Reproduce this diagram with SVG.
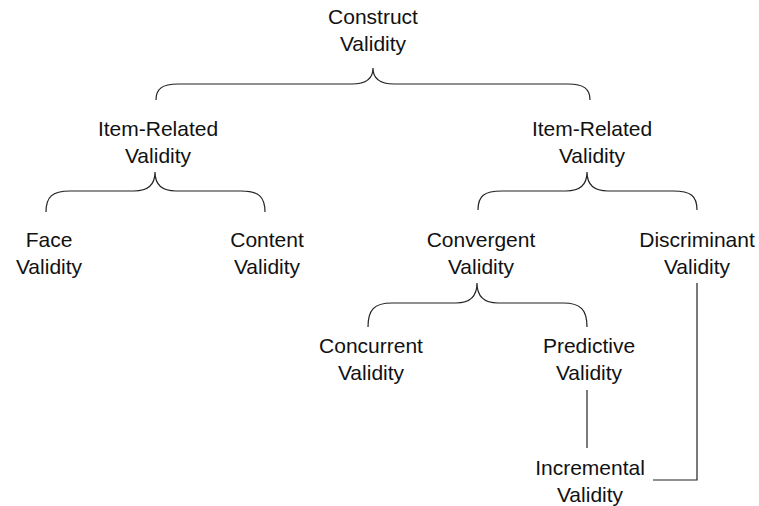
<svg xmlns="http://www.w3.org/2000/svg" width="759" height="506" viewBox="0 0 759 506">
<style>
text{font-family:"Liberation Sans",Arial,Helvetica,sans-serif;font-size:21px;fill:#111;text-anchor:middle}
.c{fill:none;stroke:#222;stroke-width:1.2}
</style>
<rect width="759" height="506" fill="#fff"/>
<g id="connectors">
<path class="c" d="M156,100 C156,89 162,84 178,84 L352,84 C366,84 373,78 373,68 C373,78 380,84 394,84 L568,84 C584,84 590,89 590,100"/>
<path class="c" d="M46,212 C46,197 52,191 70,191 L134,191 C148,191 155,185 155,172 C155,185 162,191 176,191 L241,191 C259,191 265,197 265,212"/>
<path class="c" d="M478,210 C478,196 484,191 502,191 L566,191 C580,191 587,185 587,172 C587,185 594,191 608,191 L673,191 C691,191 697,196 697,210"/>
<path class="c" d="M368,327 C368,310 374,303 392,303 L456,303 C470,303 477,296 477,283 C477,296 484,303 498,303 L563,303 C581,303 587,310 587,327"/>
<path class="c" d="M587,390 L587,448"/>
<path class="c" d="M697,283 L697,480 L653,480"/>
</g>
<g id="construct"><text x="373" y="24">Construct</text><text x="373" y="51">Validity</text></g>
<g id="item1"><text x="158" y="136">Item-Related</text><text x="158" y="163">Validity</text></g>
<g id="item2"><text x="592" y="136">Item-Related</text><text x="592" y="163">Validity</text></g>
<g id="face"><text x="49" y="247">Face</text><text x="49" y="274">Validity</text></g>
<g id="content"><text x="267" y="247">Content</text><text x="267" y="274">Validity</text></g>
<g id="convergent"><text x="481" y="247">Convergent</text><text x="481" y="274">Validity</text></g>
<g id="discriminant"><text x="697" y="247">Discriminant</text><text x="697" y="274">Validity</text></g>
<g id="concurrent"><text x="371" y="353">Concurrent</text><text x="371" y="380">Validity</text></g>
<g id="predictive"><text x="589" y="353">Predictive</text><text x="589" y="380">Validity</text></g>
<g id="incremental"><text x="590" y="475">Incremental</text><text x="590" y="502">Validity</text></g>
</svg>
